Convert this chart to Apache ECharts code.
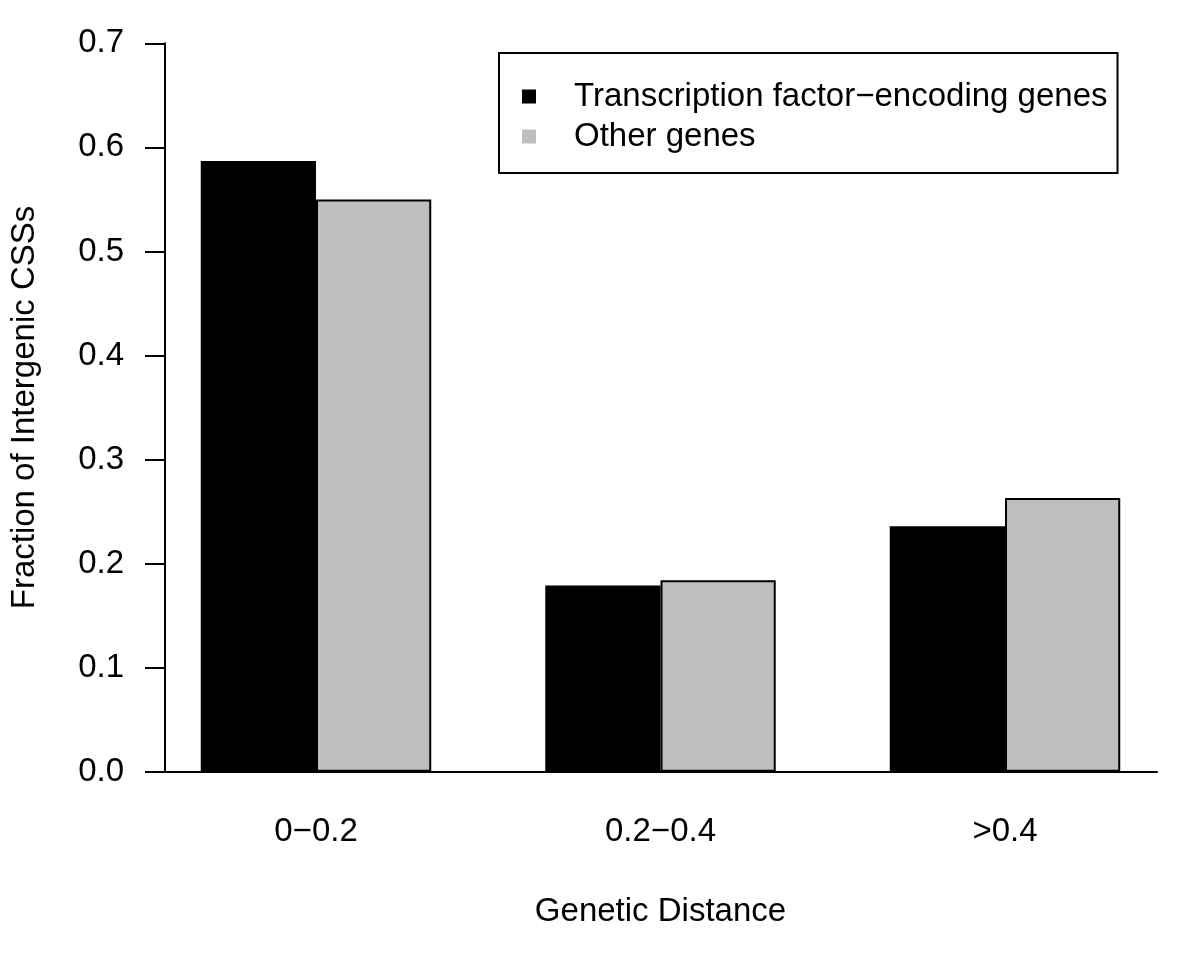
<!DOCTYPE html>
<html>
<head>
<meta charset="utf-8">
<script src="https://cdn.jsdelivr.net/npm/echarts@6/dist/echarts.min.js"></script>
<style>html,body{margin:0;padding:0;background:#fff}#c{width:1200px;height:956px}</style>
</head>
<body>
<div id="c"></div>
<script>
const categories = ['0\u22120.2', '0.2\u22120.4', '>0.4'];
const seriesNames = ['Transcription factor\u2212encoding genes', 'Other genes'];
const tfValues = [0.587, 0.179, 0.236];
const otherValues = [0.550, 0.184, 0.263];
const yTicks = ['0.0', '0.1', '0.2', '0.3', '0.4', '0.5', '0.6', '0.7'];

const FONT = 'Liberation Sans, Arial, Helvetica, sans-serif';
const FS = 33;
const chart = echarts.init(document.getElementById('c'), null, {renderer: 'canvas'});
const TOP = 43.3, BOTTOM = 956 - 771.7;

chart.setOption({
  animation: false,
  backgroundColor: '#ffffff',
  textStyle: {fontFamily: FONT},
  grid: [
    {left: 143.75, right: 22.75, top: TOP, bottom: BOTTOM, containLabel: false},
    {left: 163, right: 43, top: TOP, bottom: BOTTOM, containLabel: false}
  ],
  legend: {
    orient: 'vertical',
    left: 499, top: 53,
    padding: [27, 10, 20, 23],
    borderColor: '#000', borderWidth: 2,
    itemWidth: 14, itemHeight: 14, itemGap: 7,
    icon: 'rect',
    selectedMode: false,
    data: seriesNames.map(n => ({name: n, itemStyle: {borderWidth: 0}})),
    textStyle: {fontFamily: FONT, fontSize: FS, color: '#000', lineHeight: 33, padding: [0, 0, 0, 33]}
  },
  xAxis: [
    {
      type: 'category', gridIndex: 0, data: categories,
      axisLine: {show: false}, axisTick: {show: false},
      axisLabel: {color: '#000', fontSize: FS, fontFamily: FONT, margin: 44},
      name: 'Genetic Distance', nameLocation: 'middle', nameGap: 124,
      nameTextStyle: {color: '#000', fontSize: FS, fontFamily: FONT}
    },
    {
      type: 'value', gridIndex: 1, min: 0, max: 1,
      axisLine: {show: true, lineStyle: {color: '#000', width: 2}},
      axisTick: {show: false}, axisLabel: {show: false}, splitLine: {show: false}
    }
  ],
  yAxis: [
    {type: 'value', gridIndex: 0, min: 0, max: 0.7, show: false},
    {
      type: 'value', gridIndex: 1, min: 0, max: 0.7, interval: 0.1,
      axisLine: {show: true, lineStyle: {color: '#000', width: 2}},
      axisTick: {show: true, length: 20, lineStyle: {color: '#000', width: 2}},
      axisLabel: {color: '#000', fontSize: FS, fontFamily: FONT, margin: 41,
        formatter: (v) => yTicks[Math.round(v * 10)]},
      splitLine: {show: false},
      name: 'Fraction of Intergenic CSSs', nameLocation: 'middle', nameGap: 124, nameRotate: 90,
      nameTextStyle: {color: '#000', fontSize: FS, fontFamily: FONT}
    }
  ],
  series: [
    {
      name: seriesNames[0], type: 'bar', xAxisIndex: 0, yAxisIndex: 0,
      data: tfValues, barGap: '0%', barCategoryGap: '33.1%',
      itemStyle: {color: '#000000', borderColor: '#000', borderWidth: 2}
    },
    {
      name: seriesNames[1], type: 'bar', xAxisIndex: 0, yAxisIndex: 0,
      data: otherValues, barGap: '0%', barCategoryGap: '33.1%',
      itemStyle: {color: '#bebebe', borderColor: '#000', borderWidth: 2}
    }
  ]
});
</script>
</body>
</html>
